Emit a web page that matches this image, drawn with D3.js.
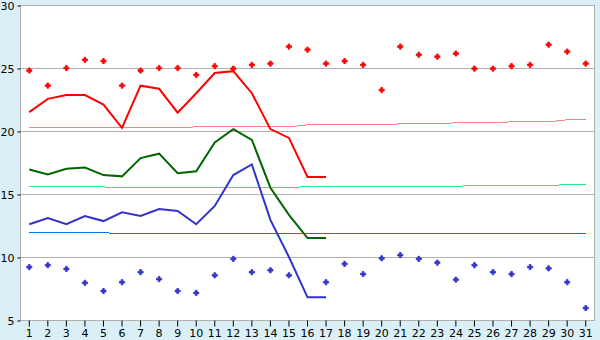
<!DOCTYPE html>
<html lang="en">
<head>
    <meta charset="UTF-8">
    <title>Daily temperatures</title>
    <script src="https://d3js.org/d3.v7.min.js"></script>
    <style>
        body {
            margin: 0;
            background: #daf0f6;
        }
        svg text {
            font-family: "DejaVu Sans", Verdana, sans-serif;
            font-size: 11px;
            fill: #000;
        }
    </style>
</head>
<body>
    <svg width="600" height="340"></svg>
    <script>
        const days = [1, 2, 3, 4, 5, 6, 7, 8, 9, 10, 11, 12, 13, 14, 15, 16,
                      17, 18, 19, 20, 21, 22, 23, 24, 25, 26, 27, 28, 29, 30, 31];
        const yTicks = [5, 10, 15, 20, 25, 30];

        // record highs / lows (markers)
        const highMarks = [24.8, 23.6, 25.0, 25.65, 25.55, 23.6, 24.8, 25.0, 25.0, 24.45, 25.15,
                           24.95, 25.25, 25.35, 26.7, 26.45, 25.35, 25.55, 25.25, 23.25, 26.7,
                           26.05, 25.9, 26.15, 24.95, 24.95, 25.15, 25.25, 26.85, 26.3, 25.35];
        const lowMarks = [9.2, 9.35, 9.05, 7.95, 7.3, 8.0, 8.8, 8.25, 7.3, 7.15, 8.55, 9.85, 8.8,
                          8.95, 8.55, null, 8.0, 9.45, 8.65, 9.9, 10.15, 9.85, 9.55, 8.2, 9.35,
                          8.8, 8.65, 9.2, 9.1, 8.0, 5.95];

        // this month's values (days 1-17)
        const maxTemp = [21.5, 22.55, 22.85, 22.85, 22.1, 20.25, 23.6, 23.35, 21.45, 23.0, 24.6,
                         24.75, 23.0, 20.15, 19.45, 16.35, 16.35];
        const meanTemp = [16.95, 16.55, 17.0, 17.1, 16.5, 16.4, 17.85, 18.2, 16.65, 16.8, 19.1,
                          20.15, 19.3, 15.5, 13.35, 11.5, 11.5];
        const minTemp = [12.6, 13.1, 12.6, 13.25, 12.85, 13.55, 13.25, 13.8, 13.65, 12.6, 14.05,
                         16.5, 17.35, 12.95, 10.0, 6.8, 6.8];

        // normals
        const normMax = [20.25, 20.25, 20.25, 20.25, 20.25, 20.25, 20.25, 20.25, 20.25, 20.33,
                         20.33, 20.33, 20.33, 20.33, 20.33, 20.49, 20.49, 20.49, 20.49, 20.49,
                         20.57, 20.57, 20.57, 20.65, 20.65, 20.65, 20.73, 20.73, 20.73, 20.89, 20.89];
        const normMean = [15.56, 15.56, 15.56, 15.56, 15.56, 15.48, 15.48, 15.48, 15.48, 15.48,
                          15.48, 15.48, 15.48, 15.48, 15.48, 15.61, 15.61, 15.61, 15.61, 15.61,
                          15.61, 15.61, 15.61, 15.61, 15.67, 15.67, 15.67, 15.67, 15.67, 15.75, 15.75];
        const normMin = [11.93, 11.93, 11.93, 11.93, 11.93, 11.85, 11.85, 11.85, 11.85, 11.85,
                         11.85, 11.85, 11.85, 11.85, 11.85, 11.85, 11.85, 11.85, 11.85, 11.85,
                         11.85, 11.85, 11.85, 11.85, 11.85, 11.85, 11.85, 11.85, 11.85, 11.85, 11.85];

        const plot = { left: 20, right: 595, top: 5, bottom: 320 };

        const svg = d3.select("svg");

        const x = d3.scaleBand()
            .domain(days)
            .range([plot.left, plot.right]);
        const cx = d => x(d) + x.bandwidth() / 2;
        const y = d3.scaleLinear()
            .domain([5, 30])
            .range([plot.bottom, plot.top]);

        svg.append("rect")
            .attr("x", plot.left)
            .attr("y", plot.top)
            .attr("width", plot.right - plot.left)
            .attr("height", plot.bottom - plot.top)
            .attr("fill", "#fff");

        // grid
        svg.append("g")
            .selectAll("line")
            .data(yTicks)
            .enter()
            .append("line")
            .attr("x1", plot.left)
            .attr("x2", plot.right)
            .attr("y1", d => Math.round(y(d)) + 0.5)
            .attr("y2", d => Math.round(y(d)) + 0.5)
            .attr("stroke", "#b0b0b0");

        svg.append("rect")
            .attr("x", plot.left + 0.5)
            .attr("y", plot.top + 0.5)
            .attr("width", plot.right - plot.left - 1)
            .attr("height", plot.bottom - plot.top)
            .attr("fill", "none")
            .attr("stroke", "#b0b0b0");

        // axes
        const yAxis = svg.append("g")
            .attr("transform", "translate(" + (plot.left + 0.5) + ",0.5)")
            .call(d3.axisLeft(y).tickValues(yTicks).tickSize(3).tickPadding(3));
        yAxis.select(".domain").remove();
        yAxis.selectAll("line").attr("stroke", "#000");

        const xAxis = svg.append("g")
            .attr("transform", "translate(0," + (plot.bottom + 0.5) + ")")
            .call(d3.axisBottom(x).tickSize(6).tickPadding(3));
        xAxis.select(".domain").remove();
        xAxis.selectAll("line").attr("stroke", "#000");
        svg.selectAll(".tick text")
            .style("font-family", "'DejaVu Sans', Verdana, sans-serif")
            .style("font-size", "11px");

        function drawLine(values, color, width, crisp) {
            const line = d3.line()
                .defined(d => d != null)
                .x((d, i) => cx(days[i]))
                .y(d => y(d));
            svg.append("path")
                .datum(values)
                .attr("fill", "none")
                .attr("stroke", color)
                .attr("stroke-width", width)
                .attr("shape-rendering", crisp ? "crispEdges" : null)
                .attr("d", line);
        }

        drawLine(normMax, "#ff8080", 1, true);
        drawLine(normMean, "#22ee88", 1, true);
        drawLine(normMin, "#0077ee", 1, true);

        drawLine(maxTemp, "#ff0000", 2, false);
        drawLine(meanTemp, "#006600", 2, false);
        drawLine(minTemp, "#3333cc", 2, false);

        // small "+" shaped markers
        const cross = d3.symbol().type(d3.symbolCross).size(15);

        function drawMarks(values, color) {
            svg.append("g")
                .selectAll("path")
                .data(values.map((v, i) => ({ day: days[i], v: v })).filter(d => d.v != null))
                .enter()
                .append("path")
                .attr("transform", d => "translate(" + cx(d.day) + "," + y(d.v) + ")")
                .attr("d", cross)
                .attr("fill", color)
                .attr("stroke", color)
                .attr("stroke-width", 0.8);
        }

        drawMarks(highMarks, "#ff0000");
        drawMarks(lowMarks, "#3333cc");
    </script>
</body>
</html>
